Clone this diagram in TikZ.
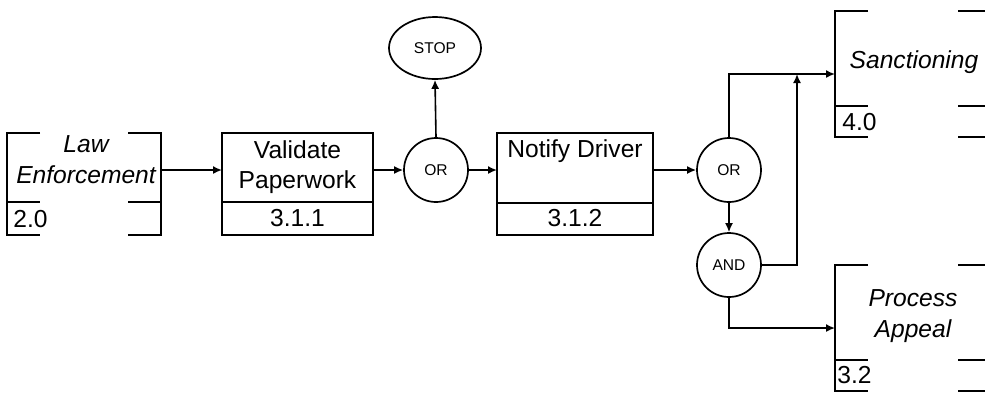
\documentclass[tikz,border=0pt]{standalone}
\usepackage{fontspec}
\setmainfont{Liberation Sans}
\usetikzlibrary{shapes.geometric,arrows.meta}
\begin{document}
\begin{tikzpicture}[x=0.5pt,y=-0.5pt,
  ln/.style={line width=1pt},
  arr/.style={line width=0.8pt, -{Latex[length=4.5pt,width=4pt]}},
  frame/.style={rectangle, inner sep=0pt, outer sep=0pt},
  procbox/.style={frame, draw, ln},
  gate/.style={circle, draw, line width=0.85pt, minimum size=32pt, inner sep=0pt,
    font=\fontsize{7.8}{9}\selectfont},
  lbl/.style={font=\fontsize{12.3}{14.8}\selectfont, align=center, inner sep=0pt},
  entlbl/.style={font=\fontsize{12.3}{15.5}\selectfont\itshape, align=center, inner sep=0pt},
  num/.style={font=\fontsize{12.3}{13}\selectfont, inner sep=0pt},
]
\useasboundingbox (0,0) rectangle (985,393);
\clip (0,0) rectangle (985,393);

% frames of the external entities and the processes
\node[frame, minimum width=77pt, minimum height=51pt] (law) at (84,184) {};
\node[procbox, minimum width=75.5pt, minimum height=51pt] (val) at (297.5,184) {};
\node[procbox, minimum width=78pt, minimum height=51pt] (nd) at (575,184) {};
\node[frame, minimum width=82.5pt, minimum height=63pt] (sanc) at (917.5,74) {};
\node[frame, minimum width=82.5pt, minimum height=63pt] (app) at (917.5,328) {};

% Law Enforcement brackets
\draw[ln] ([xshift=16.5pt]law.north west) -- (law.north west) -- (law.south west) -- ([xshift=16.5pt]law.south west);
\draw[ln] ([xshift=-16.5pt]law.north east) -- (law.north east) -- (law.south east) -- ([xshift=-16.5pt]law.south east);
\draw[ln] ([yshift=16.5pt]law.south west) -- ++(16.5pt,0);
\draw[ln] ([yshift=16.5pt]law.south east) -- ++(-16.5pt,0);

% process number bars
\draw[ln] ([yshift=16.5pt]val.south west) -- ([yshift=16.5pt]val.south east);
\draw[ln] ([yshift=16pt]nd.south west) -- ([yshift=16pt]nd.south east);

% Sanctioning brackets
\draw[ln] ([xshift=16.5pt]sanc.north west) -- (sanc.north west) -- (sanc.south west) -- ([xshift=16.5pt]sanc.south west);
\draw[ln] ([yshift=15.5pt]sanc.south west) -- ++(16.5pt,0);
\draw[ln] ([xshift=-21pt]sanc.north east) -- (sanc.north east);
\draw[ln] ([xshift=-21pt,yshift=15.5pt]sanc.south east) -- ++(21pt,0);
\draw[ln] ([xshift=-21pt]sanc.south east) -- (sanc.south east);

% Process Appeal brackets
\draw[ln] ([xshift=16.5pt]app.north west) -- (app.north west) -- (app.south west) -- ([xshift=16.5pt]app.south west);
\draw[ln] ([yshift=15.5pt]app.south west) -- ++(16.5pt,0);
\draw[ln] ([xshift=-21pt]app.north east) -- (app.north east);
\draw[ln] ([xshift=-21pt,yshift=15.5pt]app.south east) -- ++(21pt,0);
\draw[ln] ([xshift=-21pt]app.south east) -- (app.south east);

% labels
\node[entlbl] (lawtxt) at (86,160) {Law\\Enforcement};
\node[num, anchor=west] (lawnum) at (13,219) {2.0};
\node[lbl] (valtxt) at (297.5,167) {Validate\\Paperwork};
\node[num] (valnum) at (297.5,218) {3.1.1};
\node[lbl] (ndtxt) at (575,151) {Notify Driver};
\node[num] (ndnum) at (575,218) {3.1.2};
\node[entlbl] (sanctxt) at (914,62) {Sanctioning};
\node[num, anchor=west] (sancnum) at (842,122) {4.0};
\node[entlbl] (apptxt) at (913,316) {Process\\Appeal};
\node[num, anchor=west] (appnum) at (837,375) {3.2};

% logic gates
\node[gate] (or1) at (436,170) {OR};
\node[gate] (or2) at (729,170) {OR};
\node[gate] (and) at (729,265) {AND};
\node[ellipse, draw, line width=0.85pt, minimum width=46pt, minimum height=31pt, inner sep=0pt,
  font=\fontsize{7.8}{9}\selectfont] (stop) at (435,48) {STOP};
\coordinate (merge) at (797,74);

% flows
\draw[arr] (law.east |- or1) -- (val.west |- or1);
\draw[arr] (val.east |- or1) -- (or1.west);
\draw[arr] (or1.north) -- (stop.south);
\draw[arr] (or1.east) -- (nd.west |- or1);
\draw[arr] (nd.east |- or2) -- (or2.west);
\draw[arr] (or2.south) -- (and.north);
\draw[arr] (or2.north) |- (sanc.west);
\draw[arr] (and.east) -| (merge);
\draw[arr] (and.south) |- (app.west);
\end{tikzpicture}
\end{document}
